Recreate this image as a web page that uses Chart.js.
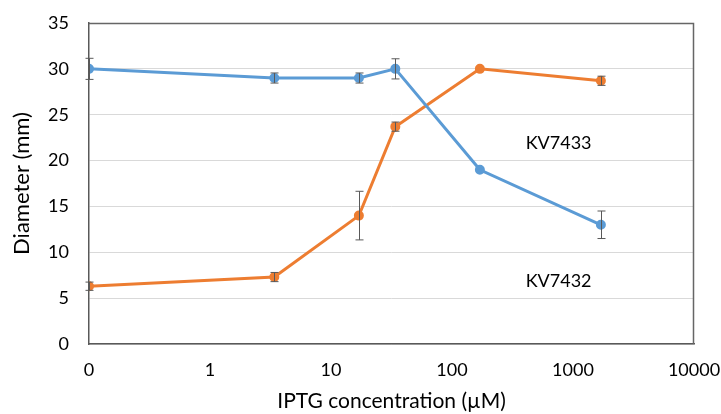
<!DOCTYPE html>
<html>
<head>
<meta charset="utf-8">
<script src="https://cdn.jsdelivr.net/npm/chart.js@4"></script>
<style>
  html, body { margin: 0; padding: 0; background: #fff; }
  #wrap { width: 721px; height: 414px; }
</style>
</head>
<body>
<div id="wrap"><canvas id="chart"></canvas></div>
<script>
// IPTG concentrations (µM); "0" is drawn at 0.1 on the log axis
var concentrations = [0.1, 3.4, 17, 34, 170, 1700];
var kv7433 = [30, 29, 29, 30, 19, 13];
var kv7433Err = [1.15, 0.55, 0.55, 1.1, 0, 1.5];
var kv7432 = [6.3, 7.3, 14, 23.7, 30, 28.7];
var kv7432Err = [0.45, 0.5, 2.65, 0.5, 0, 0.5];
var xTicks = [0.1, 1, 10, 100, 1000, 10000];
var xTickLabels = ["0", "1", "10", "100", "1000", "10000"];
var seriesLabels = [
  { text: "KV7433", x: 760, y: 21.9 },
  { text: "KV7432", x: 760, y: 6.8 }
];

var FONT = "Lato, 'Open Sans', sans-serif";

function points(xs, ys) {
  return xs.map(function (x, i) { return { x: x, y: ys[i] }; });
}

// error bars, the two series labels, plot frame
var extras = {
  id: "extras",
  afterDatasetsDraw: function (chart) {
    var ctx = chart.ctx;
    var xs = chart.scales.x, ys = chart.scales.y;
    var errs = [kv7433Err, kv7432Err];
    ctx.save();
    ctx.strokeStyle = "#595959";
    ctx.lineWidth = 1;
    chart.data.datasets.forEach(function (ds, di) {
      ds.data.forEach(function (p, i) {
        var e = errs[di][i];
        if (!e) return;
        var px = Math.round(xs.getPixelForValue(p.x)) + 0.5;
        var top = ys.getPixelForValue(p.y + e);
        var bot = ys.getPixelForValue(p.y - e);
        ctx.beginPath();
        ctx.moveTo(px, top); ctx.lineTo(px, bot);
        ctx.moveTo(px - 4, top); ctx.lineTo(px + 4, top);
        ctx.moveTo(px - 4, bot); ctx.lineTo(px + 4, bot);
        ctx.stroke();
      });
    });
    ctx.fillStyle = "#000";
    ctx.font = "18px " + FONT;
    ctx.textAlign = "center";
    ctx.textBaseline = "middle";
    seriesLabels.forEach(function (l) {
      ctx.fillText(l.text, xs.getPixelForValue(l.x), ys.getPixelForValue(l.y));
    });
    var a = chart.chartArea;
    ctx.strokeStyle = "#666666";
    ctx.lineWidth = 1.5;
    ctx.beginPath();
    ctx.moveTo(a.left, Math.round(a.top) + 0.5);
    ctx.lineTo(Math.round(a.right) - 0.5, Math.round(a.top) + 0.5);
    ctx.lineTo(Math.round(a.right) - 0.5, a.bottom);
    ctx.stroke();
    ctx.restore();
  }
};

new Chart(document.getElementById("chart"), {
  type: "line",
  data: {
    datasets: [{
      label: "KV7433",
      data: points(concentrations, kv7433),
      borderColor: "#5B9BD5",
      backgroundColor: "#5B9BD5",
      borderWidth: 3,
      pointRadius: 3.5,
      tension: 0
    }, {
      label: "KV7432",
      data: points(concentrations, kv7432),
      borderColor: "#ED7D31",
      backgroundColor: "#ED7D31",
      borderWidth: 3,
      pointRadius: 3.5,
      tension: 0
    }]
  },
  options: {
    responsive: true,
    maintainAspectRatio: false,
    animation: false,
    layout: { padding: { left: 9, top: 0, right: 0, bottom: 0 } },
    plugins: {
      legend: { display: false },
      tooltip: { enabled: false }
    },
    scales: {
      x: {
        type: "logarithmic",
        min: 0.1,
        max: 10000,
        afterBuildTicks: function (scale) {
          scale.ticks = xTicks.map(function (v) { return { value: v, major: true }; });
        },
        afterFit: function (scale) {
          scale.paddingRight = 27;
          scale.height = 70;
        },
        ticks: {
          autoSkip: false,
          maxRotation: 0,
          padding: 15,
          color: "#000",
          font: { family: FONT, size: 18 },
          callback: function (value) {
            var i = xTicks.indexOf(value);
            return i >= 0 ? xTickLabels[i] : "";
          }
        },
        grid: { display: false, drawTicks: false },
        border: { display: true, color: "#595959", width: 1.5 },
        title: {
          display: true,
          text: "IPTG concentration (µM)",
          color: "#000",
          font: { family: FONT, size: 21 },
          padding: { top: 0, bottom: 0 }
        }
      },
      y: {
        min: 0,
        max: 35,
        afterFit: function (scale) {
          scale.width = 80;
          scale.paddingTop = 23;
        },
        ticks: {
          stepSize: 5,
          padding: 20,
          color: "#000",
          font: { family: FONT, size: 18 }
        },
        grid: { color: "#d9d9d9", drawTicks: false },
        border: { display: true, color: "#595959", width: 1.5 },
        title: {
          display: true,
          text: "Diameter (mm)",
          color: "#000",
          font: { family: FONT, size: 22 },
          padding: { top: 0, bottom: 0 }
        }
      }
    }
  },
  plugins: [extras]
});
</script>
</body>
</html>
